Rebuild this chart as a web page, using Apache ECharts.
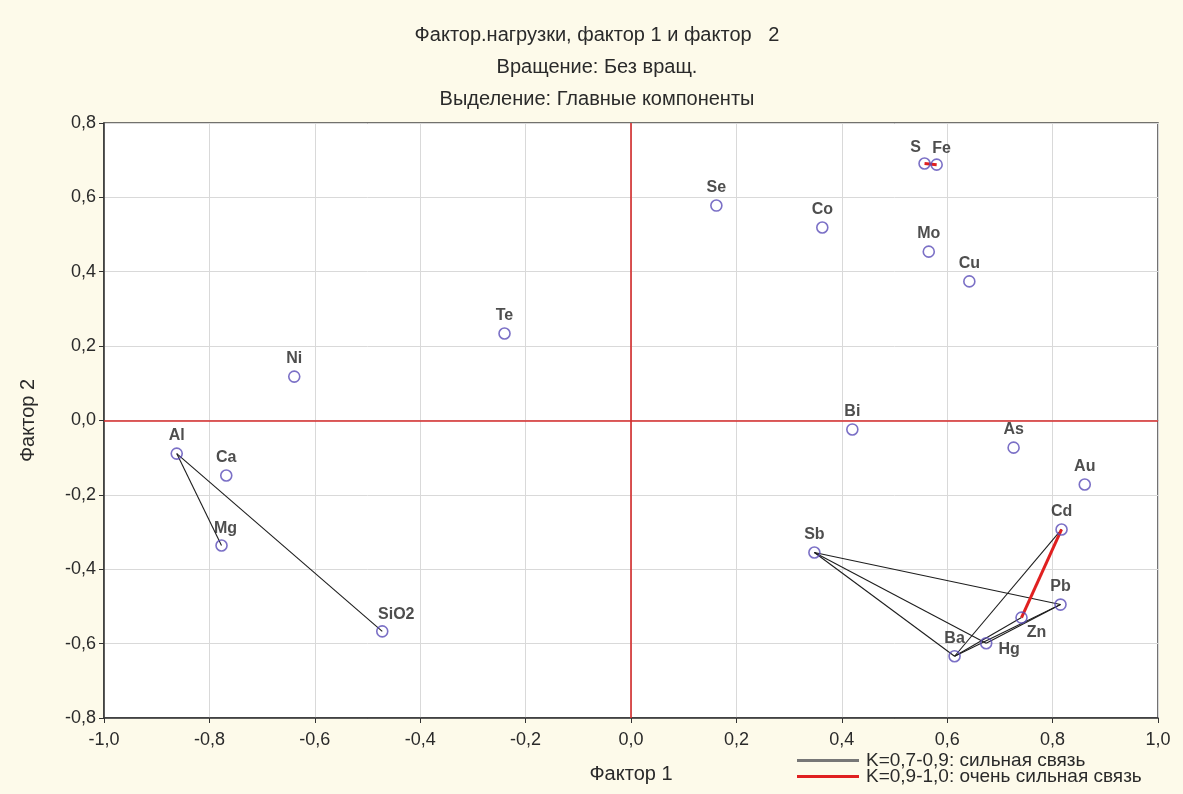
<!DOCTYPE html>
<html>
<head>
<meta charset="utf-8">
<script src="https://cdn.jsdelivr.net/npm/echarts@6/dist/echarts.min.js"></script>
<style>
  html, body { margin: 0; padding: 0; background: #fdfaea; }
  #chart { width: 1183px; height: 794px; }
</style>
</head>
<body>
<div id="chart"></div>
<script>
// Factor loadings of elements on factor 1 and factor 2
const elements = ['S', 'Fe', 'Se', 'Co', 'Mo', 'Cu', 'Te', 'Ni', 'Bi', 'As', 'Au',
                  'Al', 'Ca', 'Mg', 'SiO2', 'Sb', 'Cd', 'Pb', 'Zn', 'Ba', 'Hg'];
const factor1 = [0.557, 0.580, 0.162, 0.363, 0.565, 0.642, -0.240, -0.639, 0.420, 0.726, 0.861,
                 -0.862, -0.768, -0.777, -0.472, 0.348, 0.817, 0.815, 0.741, 0.614, 0.674];
const factor2 = [0.691, 0.688, 0.578, 0.519, 0.454, 0.374, 0.234, 0.118, -0.024, -0.073, -0.172,
                 -0.089, -0.148, -0.336, -0.567, -0.355, -0.293, -0.495, -0.530, -0.634, -0.599];

// Correlation links between elements
const strongLinks = [['Al', 'Mg'], ['Al', 'SiO2'], ['Sb', 'Pb'], ['Sb', 'Ba'], ['Sb', 'Hg'],
                     ['Ba', 'Cd'], ['Ba', 'Zn'], ['Ba', 'Pb'], ['Hg', 'Pb']];
const veryStrongLinks = [['Cd', 'Zn'], ['S', 'Fe']];

const titleLines = ['Фактор.нагрузки, фактор 1 и фактор   2',
                    'Вращение: Без вращ.',
                    'Выделение: Главные компоненты'];
const legendNames = ['K=0,7-0,9: сильная связь', 'K=0,9-1,0: очень сильная связь'];

// Label placement per element (offsets in px)
const labelPlace = {
  'S': [-9, -16], 'Fe': [5, -16], 'Hg': [23, 6], 'Zn': [15, 15], 'Mg': [4, -17], 'SiO2': [14, -17]
};

const pos = {};
elements.forEach((n, i) => { pos[n] = [factor1[i], factor2[i]]; });
const linkData = links => links.map(([a, b]) => ({ coords: [pos[a], pos[b]] }));

const fmt = v => (Math.abs(v) < 1e-9 ? 0 : v).toFixed(1).replace('.', ',');
const font = 'Liberation Sans, Arial, sans-serif';

const chart = echarts.init(document.getElementById('chart'));
chart.setOption({
  backgroundColor: '#fdfaea',
  animation: false,
  title: titleLines.map((t, i) => ({
    text: t, left: 592, textAlign: 'center', top: 20 + i * 32,
    textStyle: { fontFamily: font, fontSize: 20, fontWeight: 'normal', color: '#2a2a2a' }
  })),
  legend: {
    type: 'plain', orient: 'vertical', left: 797, top: 751, width: 380, height: 120,
    itemGap: -3, padding: 0,
    itemWidth: 62, itemHeight: 3, icon: 'rect',
    textStyle: { fontFamily: font, fontSize: 19, color: '#2a2a2a', lineHeight: 17, padding: [0, 0, 0, 2] },
    data: [
      { name: legendNames[0], itemStyle: { color: '#777777', borderWidth: 0 } },
      { name: legendNames[1], itemStyle: { color: '#e02020', borderWidth: 0 } }
    ]
  },
  grid: { left: 104, right: 25, top: 123, bottom: 76, show: true, backgroundColor: '#ffffff', borderColor: '#444', borderWidth: 1.5 },
  xAxis: {
    type: 'value', min: -1, max: 1, interval: 0.2,
    name: 'Фактор 1', nameLocation: 'middle', nameGap: 46,
    nameTextStyle: { fontFamily: font, fontSize: 20, color: '#2a2a2a' },
    axisLine: { onZero: false, lineStyle: { color: '#333', width: 1.5 } },
    axisTick: { show: true, length: 5, lineStyle: { color: '#333' } },
    axisLabel: { formatter: fmt, fontFamily: font, fontSize: 18, color: '#2a2a2a', margin: 13 },
    splitLine: { lineStyle: { color: '#d9d9d9', width: 1 } }
  },
  yAxis: {
    type: 'value', min: -0.8, max: 0.8, interval: 0.2,
    name: 'Фактор 2', nameLocation: 'middle', nameGap: 66, nameRotate: 90,
    nameTextStyle: { fontFamily: font, fontSize: 20, color: '#2a2a2a' },
    axisLine: { onZero: false, lineStyle: { color: '#333', width: 1.5 } },
    axisTick: { show: true, length: 5, lineStyle: { color: '#333' } },
    axisLabel: { formatter: fmt, fontFamily: font, fontSize: 18, color: '#2a2a2a', margin: 8 },
    splitLine: { lineStyle: { color: '#d9d9d9', width: 1 } }
  },
  series: [
    {
      name: legendNames[0], type: 'lines', coordinateSystem: 'cartesian2d',
      z: 3, silent: true,
      itemStyle: { color: '#777777', borderWidth: 0 },
      lineStyle: { color: '#1e1e1e', width: 1.1, opacity: 1 },
      data: linkData(strongLinks)
    },
    {
      name: legendNames[1], type: 'lines', coordinateSystem: 'cartesian2d',
      z: 4, silent: true,
      itemStyle: { color: '#e02020', borderWidth: 0 },
      lineStyle: { color: '#e02020', width: 3, opacity: 1 },
      data: linkData(veryStrongLinks)
    },
    {
      type: 'scatter', z: 5,
      symbol: 'circle', symbolSize: 11,
      itemStyle: { color: 'rgba(255,255,255,0)', borderColor: '#5a4cb8', borderWidth: 1.6 },
      data: elements.map((n, i) => {
        const off = labelPlace[n] || [0, -18];
        return {
          name: n, value: [factor1[i], factor2[i]],
          label: { offset: off }
        };
      }),
      label: {
        show: true, position: 'inside', formatter: p => p.name,
        fontFamily: font, fontSize: 16, fontWeight: 'bold', color: '#222'
      },
      markLine: {
        silent: true, symbol: 'none', label: { show: false },
        lineStyle: { color: '#d42a2a', width: 1.6, type: 'solid' },
        data: [{ xAxis: 0 }, { yAxis: 0 }]
      }
    }
  ]
});
</script>
</body>
</html>
